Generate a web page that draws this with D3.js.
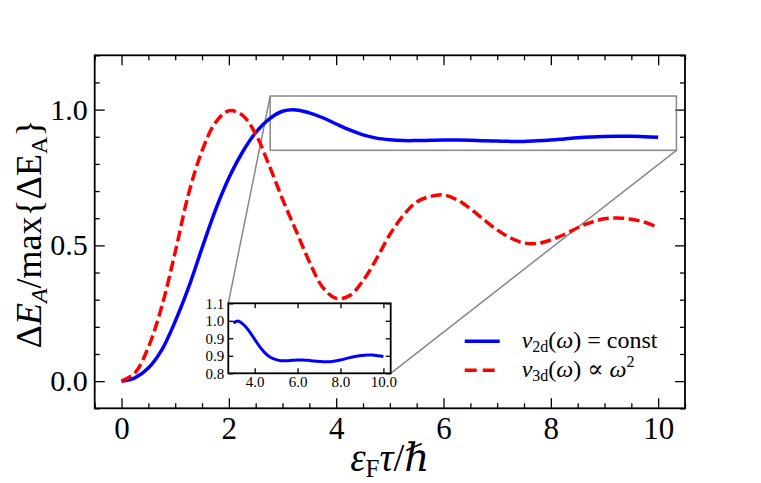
<!DOCTYPE html>
<html>
<head>
<meta charset="utf-8">
<script src="https://cdn.jsdelivr.net/npm/d3@7"></script>
<style>
  body { margin: 0; background: #fff; }
  svg text { font-family: "Liberation Serif", "DejaVu Serif", serif; fill: #000; }
  .domain { display: none; }
  .tick line { stroke: #000; stroke-width: 1.3; }
</style>
</head>
<body>
<div id="chart"></div>
<script>
var xs = [0, 0.25, 0.5, 0.75, 1.0, 1.25, 1.5, 1.75, 2.0, 2.25, 2.5, 2.75, 3.0, 3.25, 3.5, 3.75,
          4.0, 4.25, 4.5, 4.75, 5.0, 5.25, 5.5, 5.75, 6.0, 6.25, 6.5, 6.75, 7.0, 7.25, 7.5, 7.75,
          8.0, 8.25, 8.5, 8.75, 9.0, 9.25, 9.5, 9.75, 10.0];

var nu2d = [0, 0.012, 0.048, 0.115, 0.22, 0.345, 0.49, 0.63, 0.748, 0.842, 0.915, 0.965, 0.994, 0.999, 0.988, 0.97,
            0.947, 0.925, 0.907, 0.895, 0.889, 0.886, 0.886, 0.887, 0.888, 0.888, 0.887, 0.885, 0.884, 0.883, 0.883, 0.885,
            0.888, 0.892, 0.896, 0.899, 0.901, 0.902, 0.902, 0.9, 0.898];

var nu3d = [0, 0.03, 0.125, 0.275, 0.475, 0.69, 0.848, 0.952, 0.996, 0.98, 0.91, 0.795, 0.67, 0.555, 0.44, 0.345,
            0.305, 0.315, 0.37, 0.45, 0.54, 0.61, 0.66, 0.68, 0.686, 0.668, 0.635, 0.595, 0.557, 0.527, 0.509, 0.507,
            0.52, 0.54, 0.565, 0.585, 0.598, 0.601, 0.596, 0.585, 0.566];

var xMajor = [0, 2, 4, 6, 8, 10];
var yMajor = [0.0, 0.5, 1.0];
var insetXTicks = [4, 6, 8, 10];
var insetYTicks = [0.85, 0.90, 0.95, 1.00, 1.05];
var insetYLabels = ["0.8", "0.9", "0.9", "1.0", "1.1"];

var svgWidth = 761;
var svgHeight = 483;
var margin = {top: 55.3, right: 76, bottom: 74.7, left: 94.7};
var width = svgWidth - margin.left - margin.right;
var height = svgHeight - margin.top - margin.bottom;

var svg = d3.select("#chart")
  .append("svg")
  .attr("width", svgWidth)
  .attr("height", svgHeight);

var chartGroup = svg.append("g")
  .attr("transform", `translate(${margin.left}, ${margin.top})`);

var x = d3.scaleLinear().domain([-0.5, 10.5]).range([0, width]);
var y = d3.scaleLinear().domain([-0.1, 1.2]).range([height, 0]);

var blueData = xs.map((d, i) => [d, nu2d[i]]);
var redData = xs.map((d, i) => [d, nu3d[i]]);

// inset limits (also the zoom rectangle)
var ix0 = 2.77, ix1 = 10.34, iy0 = 0.85, iy1 = 1.05;

// ticks, pointing inward on all four sides
function minorRange(a, b, s) { return d3.range(a, b + 1e-9, s); }
var xMinor = minorRange(-0.5, 10.5, 0.5).filter(v => Math.abs(v % 2) > 1e-6);
var yMinor = minorRange(-0.1, 1.2, 0.1).map(v => Math.round(v * 10) / 10).filter(v => Math.abs((v * 10) % 5) > 1e-6);

chartGroup.append("g").attr("transform", `translate(0, ${height})`)
  .call(d3.axisBottom(x).tickValues(xMajor).tickSize(-10).tickPadding(9).tickFormat(d3.format("d")))
  .selectAll("text").attr("font-size", 31);
chartGroup.append("g").attr("transform", `translate(0, ${height})`)
  .call(d3.axisBottom(x).tickValues(xMinor).tickSize(-5).tickFormat(""));
chartGroup.append("g")
  .call(d3.axisTop(x).tickValues(xMajor).tickSize(-10).tickFormat(""));
chartGroup.append("g")
  .call(d3.axisTop(x).tickValues(xMinor).tickSize(-5).tickFormat(""));

chartGroup.append("g")
  .call(d3.axisLeft(y).tickValues(yMajor).tickSize(-10).tickPadding(7).tickFormat(d3.format(".1f")))
  .selectAll("text").attr("font-size", 30);
chartGroup.append("g")
  .call(d3.axisLeft(y).tickValues(yMinor).tickSize(-5).tickFormat(""));
chartGroup.append("g").attr("transform", `translate(${width}, 0)`)
  .call(d3.axisRight(y).tickValues(yMajor).tickSize(-10).tickFormat(""));
chartGroup.append("g").attr("transform", `translate(${width}, 0)`)
  .call(d3.axisRight(y).tickValues(yMinor).tickSize(-5).tickFormat(""));

// zoom rectangle and connectors
var grey = "#888888";
chartGroup.append("rect")
  .attr("x", x(ix0)).attr("y", y(iy1))
  .attr("width", x(ix1) - x(ix0)).attr("height", y(iy0) - y(iy1))
  .attr("fill", "none").attr("stroke", grey).attr("stroke-width", 1.5);

// inset placement (pixels inside chartGroup)
var inset = {left: 133.6, top: 248, width: 162.4, height: 70};

chartGroup.append("line")
  .attr("x1", x(ix0)).attr("y1", y(iy1))
  .attr("x2", inset.left).attr("y2", inset.top)
  .attr("stroke", grey).attr("stroke-width", 1.5);
chartGroup.append("line")
  .attr("x1", x(ix1)).attr("y1", y(iy0))
  .attr("x2", inset.left + inset.width).attr("y2", inset.top + inset.height)
  .attr("stroke", grey).attr("stroke-width", 1.5);

// curves
var line = d3.line()
  .x(d => x(d[0]))
  .y(d => y(d[1]))
  .curve(d3.curveCatmullRom.alpha(0.5));

chartGroup.append("path")
  .datum(blueData)
  .attr("d", line)
  .attr("fill", "none")
  .attr("stroke", "#0000ff")
  .attr("stroke-width", 3.5);

chartGroup.append("path")
  .datum(redData)
  .attr("d", line)
  .attr("fill", "none")
  .attr("stroke", "#ff0000")
  .attr("stroke-width", 3.5)
  .attr("stroke-dasharray", "11,4.5");

// frame
chartGroup.append("rect")
  .attr("width", width).attr("height", height)
  .attr("fill", "none").attr("stroke", "#000").attr("stroke-width", 1.8);

// inset axes
var insetGroup = chartGroup.append("g")
  .attr("transform", `translate(${inset.left}, ${inset.top})`);

insetGroup.append("rect")
  .attr("width", inset.width).attr("height", inset.height)
  .attr("fill", "#fff");

var xi = d3.scaleLinear().domain([ix0, ix1]).range([0, inset.width]);
var yi = d3.scaleLinear().domain([iy0, iy1]).range([inset.height, 0]);

var insetLine = d3.line()
  .x(d => xi(d[0]))
  .y(d => yi(d[1]))
  .curve(d3.curveCatmullRom.alpha(0.5));

insetGroup.append("path")
  .datum(blueData.filter(d => d[0] >= 3.0))
  .attr("d", insetLine)
  .attr("fill", "none")
  .attr("stroke", "#0000ff")
  .attr("stroke-width", 3);

insetGroup.append("g").attr("transform", `translate(0, ${inset.height})`)
  .call(d3.axisBottom(xi).tickValues(insetXTicks).tickSize(-5).tickPadding(3).tickFormat(d3.format(".1f")))
  .selectAll("text").attr("font-size", 15).attr("fill", "#333");
insetGroup.append("g")
  .call(d3.axisTop(xi).tickValues(insetXTicks).tickSize(-5).tickFormat(""));
insetGroup.append("g")
  .call(d3.axisLeft(yi).tickValues(insetYTicks).tickSize(-5).tickPadding(4).tickFormat((d, i) => insetYLabels[i]))
  .selectAll("text").attr("font-size", 15).attr("fill", "#333");
insetGroup.append("g").attr("transform", `translate(${inset.width}, 0)`)
  .call(d3.axisRight(yi).tickValues(insetYTicks).tickSize(-5).tickFormat(""));

insetGroup.append("rect")
  .attr("width", inset.width).attr("height", inset.height)
  .attr("fill", "none").attr("stroke", "#000").attr("stroke-width", 1.8);

// legend
var legend = chartGroup.append("g");
legend.append("line")
  .attr("x1", 370).attr("x2", 405).attr("y1", 286).attr("y2", 286)
  .attr("stroke", "#0000ff").attr("stroke-width", 3.5);
legend.append("line")
  .attr("x1", 370).attr("x2", 405).attr("y1", 315).attr("y2", 315)
  .attr("stroke", "#ff0000").attr("stroke-width", 3.5)
  .attr("stroke-dasharray", "12,6");

var l1 = legend.append("text").attr("x", 427).attr("y", 293).attr("font-size", 24);
l1.append("tspan").attr("font-style", "italic").text("ν");
l1.append("tspan").attr("font-size", 16).attr("dy", 4).text("2d");
l1.append("tspan").attr("dy", -4).text("(");
l1.append("tspan").attr("font-style", "italic").text("ω");
l1.append("tspan").text(") = const");

var l2 = legend.append("text").attr("x", 427).attr("y", 322).attr("font-size", 24);
l2.append("tspan").attr("font-style", "italic").text("ν");
l2.append("tspan").attr("font-size", 16).attr("dy", 4).text("3d");
l2.append("tspan").attr("dy", -4).text("(");
l2.append("tspan").attr("font-style", "italic").text("ω");
l2.append("tspan").text(") ∝ ");
l2.append("tspan").attr("font-style", "italic").text("ω");
l2.append("tspan").attr("font-size", 16).attr("dy", -10).text("2");

// axis labels
var xl = chartGroup.append("text")
  .attr("x", width / 2).attr("y", height + 63)
  .attr("text-anchor", "middle").attr("font-size", 39);
xl.append("tspan").attr("font-style", "italic").text("ε");
xl.append("tspan").attr("font-size", 25).attr("dy", 6).text("F");
xl.append("tspan").attr("dy", -6).attr("font-style", "italic").text("τ");
xl.append("tspan").text("/");
xl.append("tspan").attr("font-style", "italic").text("ℏ");

var yl = chartGroup.append("text")
  .attr("transform", `translate(${-margin.left + 41}, ${height / 2 + 2}) rotate(-90)`)
  .attr("text-anchor", "middle").attr("font-size", 36);
yl.append("tspan").text("Δ");
yl.append("tspan").attr("font-style", "italic").text("E");
yl.append("tspan").attr("font-style", "italic").attr("font-size", 24).attr("dy", 6).text("A");
yl.append("tspan").attr("dy", -6).text("/max{ΔE");
yl.append("tspan").attr("font-size", 24).attr("dy", 6).text("A");
yl.append("tspan").attr("dy", -6).text("}");
</script>
</body>
</html>
